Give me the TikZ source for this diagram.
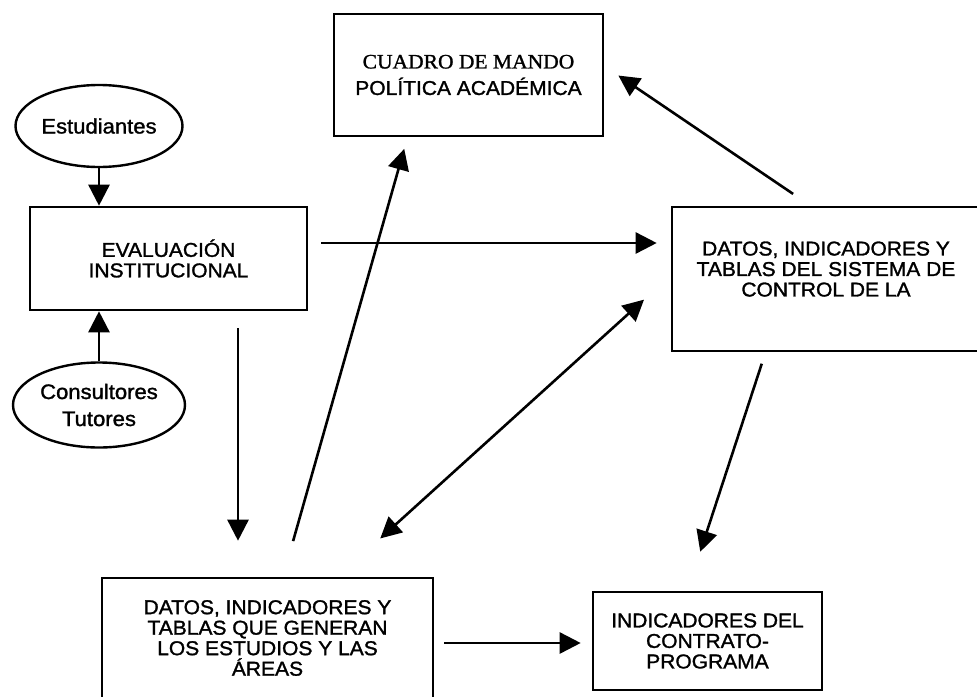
\documentclass[tikz,border=0pt]{standalone}
\usepackage{fontspec}
\setmainfont{Liberation Sans}[FakeStretch=1.05, FakeBold=1.4]
\newfontfamily\headserif{Liberation Serif}[FakeStretch=1.05, FakeBold=1.2]
\usepackage{tikz}
\usetikzlibrary{shapes, arrows.meta}
\tikzstyle{block}  = [rectangle, draw, line width=2.6pt, align=center, inner sep=0pt, font=\fontsize{20}{20.5}\selectfont]
\tikzstyle{bubble} = [ellipse, draw, line width=2.4pt, align=center, inner sep=0pt, font=\fontsize{21}{27}\selectfont]
\tikzstyle{oneway} = [draw, line width=2.6pt, -{Triangle[length=21pt, width=21pt]}]
\tikzstyle{twoway} = [draw, line width=2.6pt, {Triangle[length=21pt, width=21pt]}-{Triangle[length=21pt, width=21pt]}]

\begin{document}
\begin{tikzpicture}[x=1pt, y=-1pt]
    \useasboundingbox (0,0) rectangle (977,696);
    \clip (0,0) rectangle (977,696);
    % boxes
    \node[block, minimum width=269pt, minimum height=122pt] (cuadro) at (468.5,75) {{\headserif\fontsize{20.5}{20.5}\selectfont CUADRO DE MANDO}\\[6pt]POLÍTICA ACADÉMICA};
    \node[block, minimum width=277pt, minimum height=103pt] (eval) at (168.5,258.5) {EVALUACIÓN\\INSTITUCIONAL};
    \node[block, minimum width=308pt, minimum height=144pt] (datos) at (826,279) {DATOS, INDICADORES Y\\TABLAS DEL SISTEMA DE\\CONTROL DE LA\\[-0.5pt]};
    \node[block, minimum width=331pt, minimum height=120pt] (estudios) at (267.5,638) {DATOS, INDICADORES Y\\TABLAS QUE GENERAN\\LOS ESTUDIOS Y LAS\\ÁREAS};
    \node[block, minimum width=229pt, minimum height=98pt] (indic) at (707.5,641) {INDICADORES DEL\\CONTRATO-\\PROGRAMA};
    % sources
    \node[bubble, minimum width=167pt, minimum height=82pt] (estud) at (99,126) {Estudiantes};
    \node[bubble, minimum width=172pt, minimum height=85pt] (cons) at (99,405) {Consultores\\Tutores};
    % arrows
    \path[oneway] (estud) -- (estud |- eval.north);
    \path[oneway] (cons) -- (cons |- eval.south);
    \path[oneway, shorten <=13pt, shorten >=14pt] ([yshift=15.5pt]eval.east) -- ([yshift=15.5pt]eval.east -| datos.west);
    \path[oneway, shorten <=17pt, shorten >=36pt] ([xshift=69.5pt]eval.south) -- ([xshift=69.5pt]eval.south |- estudios.north);
    \path[oneway, shorten <=37pt, shorten >=12pt] ([xshift=15.5pt]estudios.north) -- ([xshift=-61pt]cuadro.south);
    \path[twoway, shorten <=57pt, shorten >=36pt] ([xshift=70.5pt]estudios.north) -- ([yshift=3.5pt]datos.west);
    \path[oneway, shorten <=21pt, shorten >=17pt] ([xshift=-15.5pt]datos.north) -- ([yshift=9pt]cuadro.east);
    \path[oneway, shorten <=12pt, shorten >=41pt] ([xshift=-60.5pt]datos.south) -- ([xshift=-20pt]indic.north);
    \path[oneway, shorten <=10pt, shorten >=11pt] ([yshift=-5pt]estudios.east) -- ([yshift=-5pt]estudios.east -| indic.west);
\end{tikzpicture}
\end{document}
